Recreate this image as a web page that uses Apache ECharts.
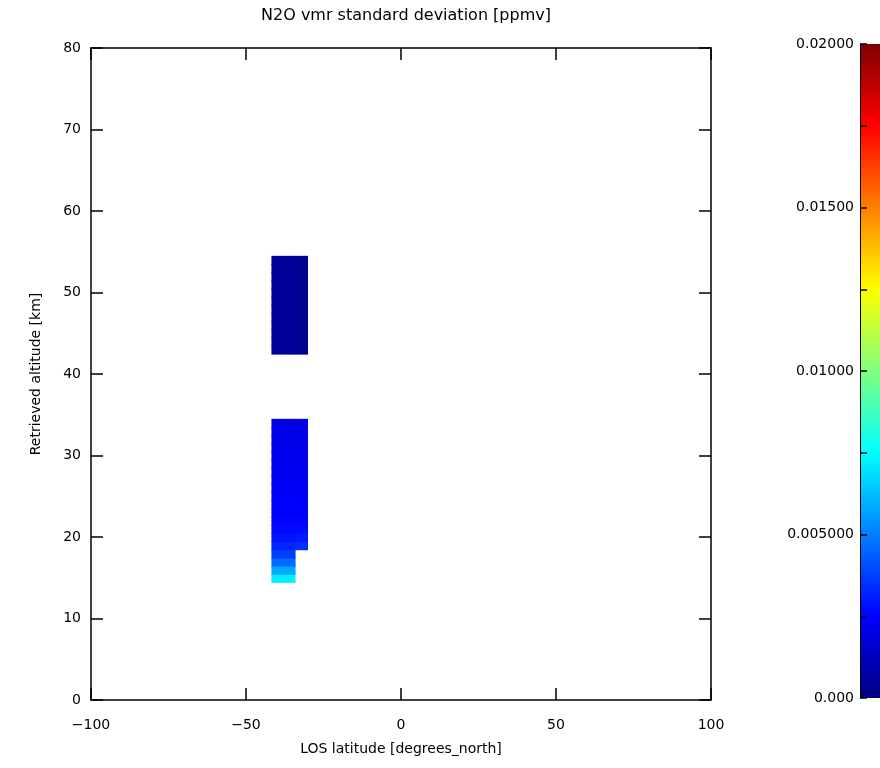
<!DOCTYPE html>
<html><head><meta charset="utf-8">
<script src="https://cdn.jsdelivr.net/npm/echarts@6/dist/echarts.min.js"></script>
<style>html,body{margin:0;padding:0;background:#fff}#c{width:880px;height:768px}</style>
</head><body><div id="c"></div>
<script>
// ---- data ----
var titleText = 'N2O vmr standard deviation [ppmv]';
var xName = 'LOS latitude [degrees_north]';
var yName = 'Retrieved altitude [km]';
var xTicks = [-100, -50, 0, 50, 100];
var yTicks = [0, 10, 20, 30, 40, 50, 60, 70, 80];
var cbTickValues = [0, 0.005, 0.01, 0.015, 0.02];
var cbTickLabels = ['0.000', '0.005000', '0.01000', '0.01500', '0.02000'];
// latitude column edges
var colA = [-41.8, -34.2];
var colB = [-34.2, -30.2];
// lower profile: altitude cell centres (1 km cells)
var lowAltA = [15,16,17,18,19,20,21,22,23,24,25,26,27,28,29,30,31,32,33,34];
var lowValA = [0.0072,0.0058,0.0046,0.0037,0.0032,0.0029,0.0027,0.0026,0.0025,0.0025,0.0024,0.0024,0.0023,0.0023,0.0022,0.0022,0.0021,0.0021,0.0020,0.0020];
var lowAltB = [19,20,21,22,23,24,25,26,27,28,29,30,31,32,33,34];
var lowValB = [0.0034,0.0030,0.0027,0.0026,0.0025,0.0024,0.0024,0.0023,0.0023,0.0022,0.0022,0.0021,0.0021,0.0020,0.0020,0.0019];
// upper profile
var upAlt = [43,44,45,46,47,48,49,50,51,52,53,54];
var upValA = [0.0005,0.0005,0.0005,0.0005,0.0005,0.0005,0.0005,0.0005,0.0005,0.0005,0.0005,0.0005];
var upValB = [0.0004,0.0004,0.0004,0.0004,0.0004,0.0004,0.0004,0.0004,0.0004,0.0004,0.0004,0.0004];
var cellH = 1;
var vmin = 0, vmax = 0.02;
var jet = ['#00007f','#0000ff','#007fff','#00ffff','#7fff7f','#ffff00','#ff7f00','#ff0000','#7f0000'];

// build cells [x0, x1, y0, y1, value]
var cells = [];
function addCol(col, alts, vals){
  for (var i = 0; i < alts.length; i++){
    cells.push([col[0], col[1], alts[i] - cellH/2, alts[i] + cellH/2, vals[i]]);
  }
}
addCol(colA, lowAltA, lowValA);
addCol(colB, lowAltB, lowValB);
addCol(colA, upAlt, upValA);
addCol(colB, upAlt, upValB);

var font = 'DejaVu Sans';
var chart = echarts.init(document.getElementById('c'), null, {renderer:'canvas'});
var axisLineStyle = {color:'#000', width:1.5};
var tickStyle = {show:true, inside:true, length:12, lineStyle:{color:'#000', width:1.5}};
function cbLabel(v){
  for (var i=0;i<cbTickValues.length;i++){ if (Math.abs(v-cbTickValues[i])<1e-9) return cbTickLabels[i]; }
  return '';
}
var option = {
  backgroundColor:'#fff',
  animation:false,
  title:{text:titleText, left:401, top:3, textAlign:'center',
    textStyle:{fontFamily:font, fontSize:16, fontWeight:'normal', color:'#000'}},
  grid:[
    {left:91, right:169, top:48, bottom:68},
    {left:860, width:22, top:44, height:654}
  ],
  visualMap:{
    type:'continuous', min:vmin, max:vmax, dimension:4, seriesIndex:0,
    inRange:{color:jet}, orient:'vertical', left:860, top:44, padding:0,
    itemWidth:22, itemHeight:654, text:null, calculable:false, showLabel:false,
    z:1, hoverLink:false
  },
  xAxis:[
    {type:'value', gridIndex:0, min:-100, max:100, interval:50, position:'bottom',
     axisLine:{show:true, onZero:false, lineStyle:axisLineStyle}, axisTick:tickStyle,
     splitLine:{show:false},
     axisLabel:{fontFamily:font, fontSize:14, color:'#000', margin:18, formatter:function(v){return v<0?'\u2212'+(-v):''+v;}},
     name:xName, nameLocation:'middle', nameGap:42, nameTextStyle:{fontFamily:font, fontSize:14, color:'#000'}},
    {type:'value', gridIndex:0, min:-100, max:100, interval:50, position:'top',
     axisLine:{show:true, onZero:false, lineStyle:axisLineStyle}, axisTick:tickStyle,
     axisLabel:{show:false}, splitLine:{show:false}},
    {type:'value', gridIndex:1, min:0, max:1, show:false}
  ],
  yAxis:[
    {type:'value', gridIndex:0, min:0, max:80, interval:10, position:'left',
     axisLine:{show:true, onZero:false, lineStyle:axisLineStyle}, axisTick:tickStyle,
     splitLine:{show:false},
     axisLabel:{fontFamily:font, fontSize:14, color:'#000', margin:10},
     name:yName, nameLocation:'middle', nameGap:48, nameRotate:90, nameTextStyle:{fontFamily:font, fontSize:14, color:'#000'}},
    {type:'value', gridIndex:0, min:0, max:80, interval:10, position:'right',
     axisLine:{show:true, onZero:false, lineStyle:axisLineStyle}, axisTick:tickStyle,
     axisLabel:{show:false}, splitLine:{show:false}},
    {type:'value', gridIndex:1, min:vmin, max:vmax, interval:0.005, position:'left', z:10,
     axisLine:{show:true, onZero:false, lineStyle:{color:'#000', width:1}},
     axisTick:{show:true, inside:true, length:7, lineStyle:{color:'#000', width:1.5}},
     minorTick:{show:true, splitNumber:2, length:7, lineStyle:{color:'#000', width:1.5}},
     splitLine:{show:false},
     axisLabel:{fontFamily:font, fontSize:14, color:'#000', margin:6, formatter:cbLabel}}
  ],
  series:[{
    type:'custom', xAxisIndex:0, yAxisIndex:0, clip:true,
    encode:{x:[0,1], y:[2,3]},
    data:cells,
    renderItem:function(params, api){
      var p0 = api.coord([api.value(0), api.value(3)]);
      var p1 = api.coord([api.value(1), api.value(2)]);
      return {type:'rect', shape:{x:p0[0], y:p0[1], width:p1[0]-p0[0]+0.6, height:p1[1]-p0[1]+1},
        style:{fill:api.visual('color')}};
    }
  }]
};
chart.setOption(option);
</script>
</body></html>
